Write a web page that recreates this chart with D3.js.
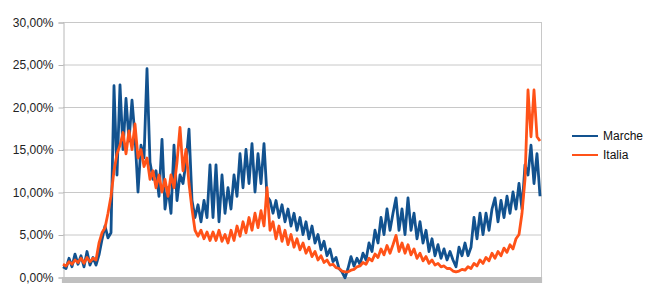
<!DOCTYPE html>
<html>
<head>
<meta charset="utf-8">
<script src="https://cdn.jsdelivr.net/npm/d3@7"></script>
<style>
  html, body { margin: 0; padding: 0; background: #fff; }
  svg { display: block; font-family: "Liberation Sans", Arial, sans-serif; }
</style>
</head>
<body>
<svg id="chart" width="650" height="300"></svg>
<script>
// ---- data (positivity rate, %) ----
const seriesNames = ["Marche", "Italia"];
const seriesColors = ["#12528f", "#ff5218"];
const yTicks = [0, 5, 10, 15, 20, 25, 30];

const marche = [
  1.2, 1.0, 2.2, 1.2, 2.7, 1.5, 2.5, 1.2, 3.0, 1.4,
  2.3, 1.4, 2.6, 4.4, 6.0, 4.6, 5.2, 22.5, 12.0, 22.6,
  15.0, 21.0, 16.0, 20.8, 16.5, 10.0, 15.5, 14.0, 24.5, 13.5,
  11.5, 12.5, 9.5, 16.2, 8.0, 10.5, 7.5, 15.5, 9.0, 12.0,
  11.0, 13.5, 17.4, 9.0, 7.0, 8.5, 6.5, 9.0, 7.0, 13.2,
  7.0, 13.2, 6.5, 12.0, 7.5, 10.5, 8.0, 12.0, 9.5, 14.5,
  10.5, 15.0, 11.0, 15.7, 10.0, 14.5, 11.0, 15.7, 9.5, 9.0,
  7.5, 9.0, 7.0, 8.5, 6.5, 8.0, 6.0, 7.5, 5.5, 7.0,
  5.0, 6.5, 4.5, 6.0, 4.0, 5.0, 3.2, 4.2, 2.5, 3.3,
  1.8, 2.3, 1.0, 0.6, -0.1, 1.0, 2.4, 1.3, 2.2, 1.5,
  2.8, 2.0, 4.0, 3.0, 5.5, 4.0, 7.0, 5.0, 8.0, 5.5,
  7.5, 9.3, 5.5, 8.0, 5.0, 9.3, 5.5, 7.5, 4.5, 6.5,
  4.0, 5.5, 3.0, 4.5, 2.5, 3.8, 2.2, 3.3, 2.0, 3.0,
  2.0, 1.2, 3.5, 2.5, 4.0, 2.5, 3.5, 7.0, 4.5, 7.5,
  5.0, 7.5, 5.5, 8.0, 9.3, 6.5, 9.0, 7.0, 9.5, 7.5,
  10.0, 8.0, 11.0, 8.0, 13.2, 12.0, 15.5, 11.0, 14.5, 9.5
];

const italia = [
  1.5, 1.3, 1.8, 1.5, 2.0, 1.7, 2.2, 1.6, 2.3, 1.8,
  2.2, 2.0, 4.0, 5.2, 5.8, 7.5, 9.5, 12.5, 14.5, 15.5,
  17.0, 14.5, 17.2, 15.0, 18.0, 14.0, 15.0, 13.0, 14.0, 11.5,
  12.5, 10.5, 12.0, 10.0, 11.5, 9.5, 12.0, 10.5, 13.5, 17.6,
  12.5, 15.0, 11.0, 8.0, 5.5, 4.8, 5.5, 4.5, 5.3, 4.3,
  5.3, 4.3, 5.5, 4.2, 5.0, 4.0, 5.5, 4.3, 6.0, 4.8,
  6.5, 5.2, 7.0, 5.5, 7.5, 5.8, 7.8, 6.0, 10.5, 5.5,
  6.5, 4.5, 6.0, 4.2, 5.5, 3.8, 5.0, 3.5, 4.5, 3.2,
  4.0, 2.8, 3.5, 2.4, 3.0, 2.0, 2.5, 1.7, 2.0, 1.4,
  1.5, 1.1, 1.0, 0.7, 0.6, 0.6, 0.8, 0.9, 1.2, 1.3,
  1.7, 1.5, 2.2, 1.9, 2.7, 2.3, 3.3, 2.6, 3.7, 2.8,
  3.8, 4.9, 3.0, 4.0, 2.8, 3.8, 2.6, 3.3, 2.2, 2.8,
  1.9, 2.4, 1.6, 2.0, 1.4, 1.6, 1.2, 1.3, 1.0, 1.0,
  0.7, 0.6, 0.7, 0.9, 0.8, 1.2, 1.0, 1.6, 1.3, 2.0,
  1.6, 2.3, 1.9, 2.8, 2.2, 3.0, 2.5, 3.4, 2.9, 3.8,
  3.3, 4.5, 5.0, 7.5, 11.5, 22.0, 16.5, 22.0, 16.5, 16.0
];

const series = [marche, italia];

// ---- layout ----
const svg = d3.select("#chart");
const plotLeft = 63, plotRight = 541, plotTop = 22, plotBottom = 277;

const x = d3.scaleLinear().domain([0, marche.length - 1]).range([plotLeft, plotRight - 1]);
const y = d3.scaleLinear().domain([0, 30]).range([plotBottom, plotTop]);

// gridlines
svg.append("g")
  .selectAll("line")
  .data(yTicks.filter(d => d > 0))
  .join("line")
  .attr("x1", plotLeft).attr("x2", plotRight)
  .attr("y1", d => y(d) + 0.5).attr("y2", d => y(d) + 0.5)
  .attr("stroke", "#c8c8c8").attr("stroke-width", 1);

// right border
svg.append("line")
  .attr("x1", plotRight + 0.5).attr("x2", plotRight + 0.5)
  .attr("y1", plotTop).attr("y2", plotBottom)
  .attr("stroke", "#c8c8c8");

// y axis
const fmt = v => d3.format(".2f")(v).replace(".", ",") + "%";
const yAxis = svg.append("g")
  .attr("transform", `translate(${plotLeft + 0.5},0.5)`)
  .call(d3.axisLeft(y).tickValues(yTicks).tickSize(5).tickPadding(5).tickFormat(fmt));
yAxis.select(".domain").attr("stroke", "#b8b8b8");
yAxis.selectAll(".tick line").attr("stroke", "#b8b8b8");
yAxis.selectAll("text").attr("fill", "#222").style("font-size", "12px")
  .style("font-family", "'Liberation Sans', Arial, sans-serif");

// x axis (dense category ticks forming a grey band)
const xAxis = svg.append("g")
  .attr("transform", `translate(0,${plotBottom})`)
  .call(d3.axisBottom(x).tickValues(d3.range(marche.length)).tickSize(6).tickFormat(""));
xAxis.select(".domain").attr("stroke", "#c0c0c0");
xAxis.selectAll(".tick line").attr("stroke", "#c0c0c0").attr("stroke-width", 3.2);

// lines
const line = d3.line().x((d, i) => x(i)).y(d => y(d));
series.forEach((s, k) => {
  svg.append("path")
    .datum(s)
    .attr("d", line)
    .attr("fill", "none")
    .attr("stroke", seriesColors[k])
    .attr("stroke-width", 2.8)
    .attr("stroke-linejoin", "round");
});

// legend
const legend = svg.append("g");
seriesNames.forEach((name, k) => {
  const ly = 136 + k * 19;
  legend.append("line")
    .attr("x1", 572).attr("x2", 598)
    .attr("y1", ly).attr("y2", ly)
    .attr("stroke", seriesColors[k]).attr("stroke-width", 2);
  legend.append("text")
    .attr("x", 603).attr("y", ly)
    .attr("dy", "0.35em")
    .style("font-size", "12px")
    .attr("fill", "#111")
    .text(name);
});
</script>
</body>
</html>
